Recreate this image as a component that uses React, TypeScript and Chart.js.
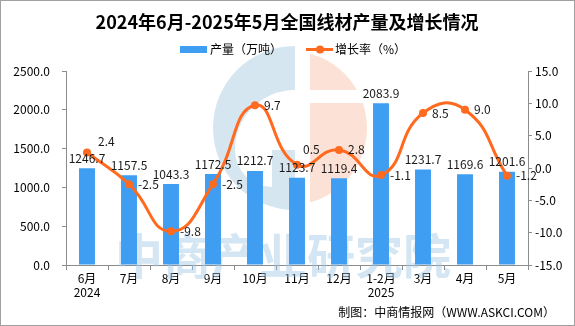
import React, { useEffect, useRef } from "react";
import { Chart, registerables } from "chart.js";

Chart.register(...registerables);

const categories: (string | string[])[] = [
  ["6月", "2024"], "7月", "8月", "9月", "10月", "11月", "12月", ["1-2月", "2025"], "3月", "4月", "5月",
];
const output = [1246.7, 1157.5, 1043.3, 1172.5, 1212.7, 1123.7, 1119.4, 2083.9, 1231.7, 1169.6, 1201.6];
const growth = [2.4, -2.5, -9.8, -2.5, 9.7, 0.5, 2.8, -1.1, 8.5, 9.0, -1.2];
const leftTicks = [0, 500, 1000, 1500, 2000, 2500];
const rightTicks = [-15, -10, -5, 0, 5, 10, 15];

const TITLE = "2024年6月-2025年5月全国线材产量及增长情况";
const LEGEND_BAR = "产量（万吨）";
const LEGEND_LINE = "增长率（%）";
const FOOTER = "制图：中商情报网（WWW.ASKCI.COM）";
const WATERMARK = "中商产业研究院";

const FONT = "'Noto Sans CJK SC', 'Noto Sans', sans-serif";
const BAR_COLOR = "#409EF2";
const LINE_COLOR = "#FF6A1F";
const AXIS_COLOR = "#8C8C8C";

const decorPlugin = {
  id: "decor",
  beforeDatasetsDraw(chart: any) {
    const ctx = chart.ctx as CanvasRenderingContext2D;
    ctx.save();
    // logo watermark
    const cx = 295, cy = 128;
    ctx.fillStyle = "#D6E6F0";
    ctx.beginPath();
    ctx.moveTo(cx, cy - 82);
    ctx.arc(cx, cy, 82, -Math.PI / 2, Math.PI / 2, true);
    ctx.closePath();
    ctx.fill();
    ctx.fillStyle = "#FFFFFF";
    ctx.beginPath();
    ctx.moveTo(cx, 150);
    ctx.arc(cx, 150, 60, -Math.PI / 2, Math.PI, true);
    ctx.closePath();
    ctx.fill();
    ctx.beginPath();
    ctx.moveTo(272, 150);
    ctx.arc(272, 150, 37, Math.PI, Math.PI / 2, true);
    ctx.closePath();
    ctx.fill();
    // orange half
    ctx.save();
    ctx.beginPath();
    ctx.rect(310, 40, 80, 50);
    ctx.rect(310, 103, 80, 110);
    ctx.clip();
    ctx.fillStyle = "#FCE2D6";
    ctx.beginPath();
    ctx.arc(290, 128, 77, 0, Math.PI * 2);
    ctx.fill();
    ctx.restore();
    // watermark text
    ctx.font = `bold 48px ${FONT}`;
    ctx.fillStyle = "rgba(160,200,228,0.45)";
    ctx.textAlign = "left";
    ctx.textBaseline = "middle";
    ctx.fillText(WATERMARK, 115, 256);
    ctx.restore();
  },
  afterDatasetsDraw(chart: any) {
    const ctx = chart.ctx as CanvasRenderingContext2D;
    ctx.save();
    ctx.font = `12px ${FONT}`;
    ctx.fillStyle = "#1A1A1A";
    const barMeta = chart.getDatasetMeta(0);
    barMeta.data.forEach((bar: any, i: number) => {
      ctx.textAlign = "center";
      ctx.textBaseline = "bottom";
      ctx.fillText(output[i].toFixed(1), bar.x, bar.y - 4);
    });
    const lineMeta = chart.getDatasetMeta(1);
    lineMeta.data.forEach((pt: any, i: number) => {
      let dx = 9, dy = 0;
      if (i === 0) { dx = 11; dy = -11; }
      if (i === 5) { dx = 6; dy = -15; }
      ctx.textAlign = "left";
      ctx.textBaseline = "middle";
      ctx.fillText(growth[i].toFixed(1), pt.x + dx, pt.y + dy);
    });
    ctx.restore();
  },
  afterDraw(chart: any) {
    const ctx = chart.ctx as CanvasRenderingContext2D;
    ctx.save();
    // title
    ctx.font = `bold 18px ${FONT}`;
    ctx.fillStyle = "#000";
    ctx.textAlign = "center";
    ctx.textBaseline = "middle";
    ctx.fillText(TITLE, 287, 22);
    // legend
    ctx.fillStyle = BAR_COLOR;
    ctx.fillRect(180, 46, 27, 7);
    ctx.font = `12px ${FONT}`;
    ctx.fillStyle = "#000";
    ctx.textAlign = "left";
    ctx.fillText(LEGEND_BAR, 210, 49.5);
    ctx.strokeStyle = LINE_COLOR;
    ctx.lineWidth = 3;
    ctx.beginPath();
    ctx.moveTo(306, 49.5);
    ctx.lineTo(333, 49.5);
    ctx.stroke();
    ctx.fillStyle = LINE_COLOR;
    ctx.beginPath();
    ctx.arc(320, 49.5, 4, 0, Math.PI * 2);
    ctx.fill();
    ctx.fillStyle = "#000";
    ctx.fillText(LEGEND_LINE, 335, 49.5);
    // footer
    ctx.textAlign = "right";
    ctx.fillText(FOOTER, 555, 312);
    // border
    ctx.strokeStyle = "#A0A0A0";
    ctx.lineWidth = 1;
    ctx.strokeRect(0.5, 0.5, 574, 325);
    ctx.restore();
  },
};

export default function App() {
  const canvasRef = useRef<HTMLCanvasElement | null>(null);

  useEffect(() => {
    document.body.style.margin = "0";
    const canvas = canvasRef.current;
    if (!canvas) return;
    const chart = new Chart(canvas, {
      type: "bar",
      data: {
        labels: categories as any,
        datasets: [
          {
            type: "bar",
            label: LEGEND_BAR,
            data: output,
            backgroundColor: BAR_COLOR,
            barPercentage: 0.38,
            categoryPercentage: 1,
            yAxisID: "y",
            order: 1,
          },
          {
            type: "line",
            label: LEGEND_LINE,
            data: growth,
            borderColor: LINE_COLOR,
            backgroundColor: LINE_COLOR,
            borderWidth: 3,
            pointRadius: 4,
            pointBackgroundColor: LINE_COLOR,
            pointBorderWidth: 0,
            tension: 0.5,
            yAxisID: "y1",
            order: 0,
          } as any,
        ],
      },
      options: {
        responsive: false,
        animation: false,
        layout: { padding: { top: 71, bottom: 0, left: 0, right: 0 } },
        plugins: {
          legend: { display: false },
          title: { display: false },
          tooltip: { enabled: false },
        },
        scales: {
          x: {
            offset: true,
            grid: { display: true, drawOnChartArea: false, drawTicks: true, tickLength: 5, color: AXIS_COLOR, offset: true },
            border: { display: true, color: AXIS_COLOR },
            ticks: { color: "#000", font: { family: FONT, size: 12, lineHeight: 1.15 }, padding: 2, maxRotation: 0, autoSkip: false },
            afterFit: (s: any) => { s.height = 61; },
          },
          y: {
            position: "left",
            min: leftTicks[0],
            max: leftTicks[leftTicks.length - 1],
            afterBuildTicks: (s: any) => { s.ticks = leftTicks.map((v) => ({ value: v })); },
            grid: { display: true, drawOnChartArea: false, drawTicks: true, tickLength: 4, color: AXIS_COLOR },
            border: { display: true, color: AXIS_COLOR },
            ticks: { color: "#000", font: { family: FONT, size: 12 }, padding: 12, callback: (v: any) => Number(v).toFixed(1) },
            afterFit: (s: any) => { s.width = 66; },
          },
          y1: {
            position: "right",
            min: rightTicks[0],
            max: rightTicks[rightTicks.length - 1],
            afterBuildTicks: (s: any) => { s.ticks = rightTicks.map((v) => ({ value: v })); },
            grid: { display: true, drawOnChartArea: false, drawTicks: true, tickLength: 4, color: AXIS_COLOR },
            border: { display: true, color: AXIS_COLOR },
            ticks: { color: "#000", font: { family: FONT, size: 12 }, padding: 3, callback: (v: any) => Number(v).toFixed(1) },
            afterFit: (s: any) => { s.width = 47; },
          },
        },
      },
      plugins: [decorPlugin],
    });
    return () => chart.destroy();
  }, []);

  return (
    <div style={{ width: 575, height: 326, background: "#fff" }}>
      <canvas ref={canvasRef} width={575} height={326} style={{ display: "block" }} />
    </div>
  );
}
